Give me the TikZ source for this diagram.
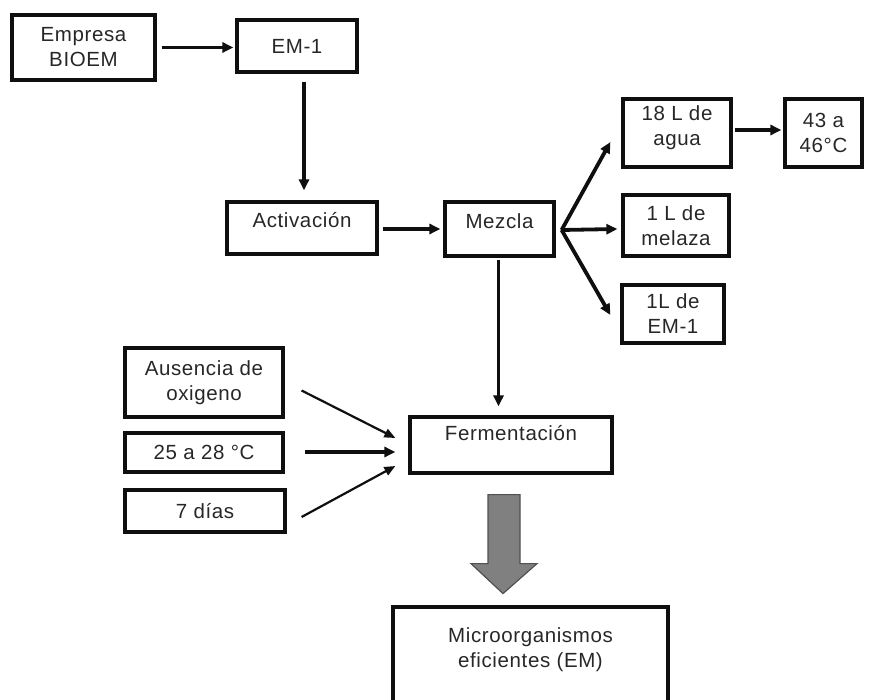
\documentclass[tikz,border=0pt]{standalone}
\usepackage{fontspec}
\setmainfont{Liberation Sans}[LetterSpace=3]
\usetikzlibrary{arrows.meta,calc}
\definecolor{blockfill}{RGB}{128,128,128}
\definecolor{blockline}{RGB}{80,80,80}
\definecolor{ink}{RGB}{15,15,15}
\begin{document}
\begin{tikzpicture}[x=1pt,y=1pt,
  font=\fontsize{20.5}{25}\selectfont,
  box/.style={draw=ink, line width=3.2pt, rectangle, inner xsep=2pt, inner ysep=0pt, align=center, text=ink!90},
  arr/.style={draw=ink, line width=3.8pt, -{Triangle[length=11pt,width=10pt]}},
  tarr/.style={draw=ink, line width=2.2pt, -{Triangle[length=11pt,width=9pt]}}]
\useasboundingbox (0,0) rectangle (875,-700);
\clip (0,0) rectangle (875,-700);

% nodes
\node[box, minimum width=143, minimum height=65] (emp) at (83.5,-47.5) {Empresa\\BIOEM};
\node[box, minimum width=120, minimum height=52] (em1) at (297,-46) {EM-1};
\node[box, minimum width=150, minimum height=52, text depth=16pt] (act) at (302,-228) {Activación};
\node[box, minimum width=109, minimum height=54, text depth=16pt] (mez) at (499.5,-229) {Mezcla};
\node[box, minimum width=108, minimum height=68, text depth=14pt] (agua) at (677,-133) {18 L de\\agua};
\node[box, minimum width=77, minimum height=68] (t43) at (823.5,-133) {43 a\\46°C};
\node[box, minimum width=106, minimum height=61] (mel) at (676,-225.5) {1 L de\\melaza};
\node[box, minimum width=102, minimum height=58] (em1b) at (673,-314) {1L de\\EM-1};
\node[box, minimum width=202, minimum height=56, text depth=24pt] (fer) at (511,-445) {Fermentación};
\node[box, minimum width=158, minimum height=69] (aus) at (204,-382.5) {Ausencia de\\oxigeno};
\node[box, minimum width=158, minimum height=39] (t25) at (204,-452.5) {25 a 28 °C};
\node[box, minimum width=160, minimum height=42] (dias) at (205,-511) {7 días};
\node[box, minimum width=275, minimum height=113, text depth=32pt] (mic) at (530.5,-663.5) {Microorganismos\\eficientes (EM)};

% connectors
\draw[arr] ($(emp.east)+(5,0)$) -- ($(em1.west)+(-2,-1.5)$);
\draw[arr] ($(em1.south)+(7,-8)$) -- ($(act.north)+(2,10)$);
\draw[arr] ($(act.east)+(4,-1)$) -- ($(mez.west)+(-3,0)$);
\coordinate (j) at ($(mez.east)+(6,-1)$);
\draw[arr] (j) -- ($(agua.west)+(-11,-9)$);
\draw[arr] (j) -- ($(mel.west)+(-4,-3.5)$);
\draw[arr] (j) -- ($(em1b.west)+(-10,-1)$);
\draw[arr] ($(agua.east)+(2,3)$) -- ($(t43.west)+(-2,3)$);
\draw[arr] ($(mez.south)+(-1,-2)$) -- ($(mez.south |- fer.north)+(-1,9)$);
\draw[tarr] ($(aus.east)+(17,-8)$) -- ($(fer.west)+(-13,7)$);
\draw[arr] ($(t25.east)+(20,0.5)$) -- ($(fer.west)+(-13,-7)$);
\draw[tarr] ($(dias.east)+(15,-6)$) -- ($(fer.west)+(-13,-21)$);

% big block arrow
\coordinate (ba) at ($(fer.south)+(-8,-20)$);
\draw[blockline, line width=1.2pt, fill=blockfill, line join=miter]
  ($(ba)+(-15,0)$) -- ($(ba)+(17,0)$) -- ($(ba)+(17,-69)$) -- ($(ba)+(34,-69)$)
  -- ($(ba)+(0,-99)$) -- ($(ba)+(-32,-69)$) -- ($(ba)+(-15,-69)$) -- cycle;
\end{tikzpicture}
\end{document}
